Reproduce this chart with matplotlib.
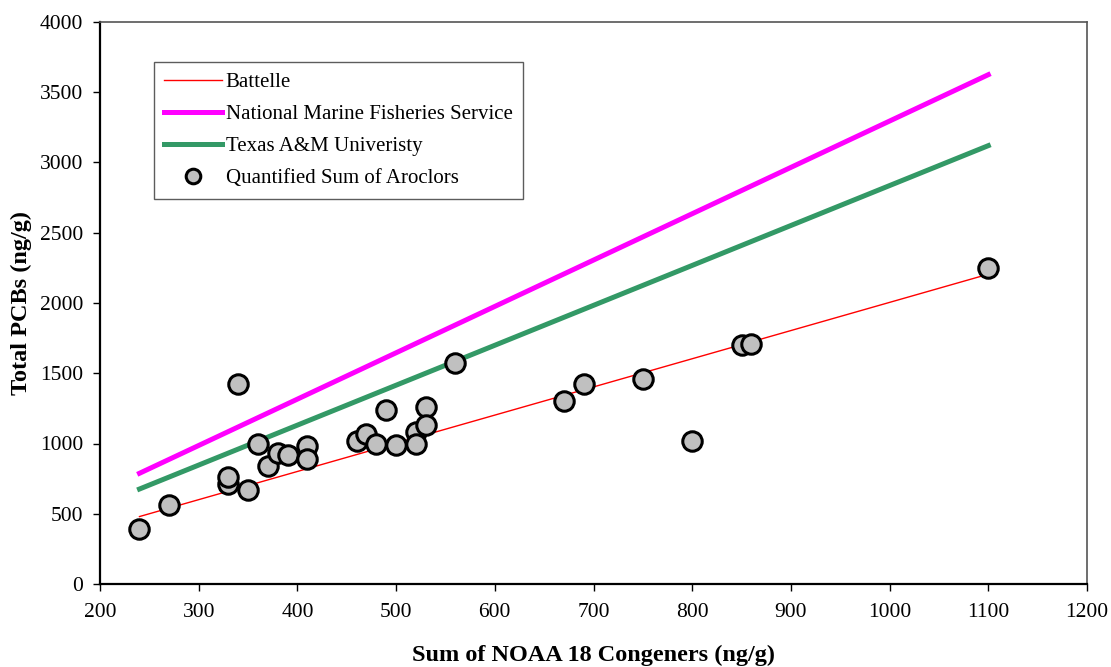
import numpy as np
import matplotlib
matplotlib.use('Agg')
import matplotlib.pyplot as plt

plt.rcParams['font.family'] = ['Liberation Serif', 'DejaVu Serif']

# regression line end points
line_x = [240, 1100]
battelle_y = [480, 2205]
nmfs_y = [788, 3625]
tamu_y = [676, 3120]

# quantified sum of aroclors
noaa18 = [240, 270, 340, 330, 330, 350, 360, 370, 380, 390, 410, 410, 460, 470,
          490, 480, 500, 520, 520, 530, 530, 560, 670, 690, 750, 800, 850, 860, 1100]
aroclors = [390, 560, 1420, 710, 765, 670, 1000, 840, 930, 920, 980, 890, 1015, 1070,
            1240, 1000, 990, 1080, 1000, 1260, 1130, 1570, 1300, 1420, 1460, 1020, 1700, 1710, 2250]

fig = plt.figure(figsize=(11.11, 6.67), dpi=100)
ax = fig.add_axes([100/1111, 1-584/667, 987/1111, 562/667])

ax.plot(line_x, battelle_y, '-', color='#FF0000', lw=1.0, label='Battelle')
ax.plot(line_x, nmfs_y, '-', color='#FF00FF', lw=3.6, label='National Marine Fisheries Service')
ax.plot(line_x, tamu_y, '-', color='#339966', lw=3.6, label='Texas A&M Univeristy')
ax.plot(noaa18, aroclors, 'o', ms=14, mfc='#C0C0C0', mec='black', mew=2.2,
        label='Quantified Sum of Aroclors')

ax.set_xlim(200, 1200)
ax.set_ylim(0, 4000)
ax.set_xticks(np.arange(200, 1201, 100))
ax.set_yticks(np.arange(0, 4001, 500))
ax.tick_params(labelsize=15.5, direction='out', length=5, width=1)
ax.tick_params(axis='x', pad=9)
ax.tick_params(axis='y', pad=7)
for s in ['left', 'bottom']:
    ax.spines[s].set_linewidth(1.6)
for s in ['top', 'right']:
    ax.spines[s].set_linewidth(1.2)
    ax.spines[s].set_color('#555555')

ax.set_xlabel('Sum of NOAA 18 Congeners (ng/g)', fontsize=17.5, fontweight='bold', labelpad=16)
ax.set_ylabel('Total PCBs (ng/g)', fontsize=17.5, fontweight='bold', labelpad=6)

leg = ax.legend(loc='upper left', bbox_to_anchor=(54/987, 1-40/562), fontsize=15,
                frameon=True, fancybox=False, edgecolor='#333333', handlelength=2.75,
                handletextpad=0.2, borderpad=0.5, borderaxespad=0, labelspacing=0.6,
                markerscale=0.75)
leg.get_frame().set_linewidth(1.0)

fig.savefig('out.png', dpi=100)
